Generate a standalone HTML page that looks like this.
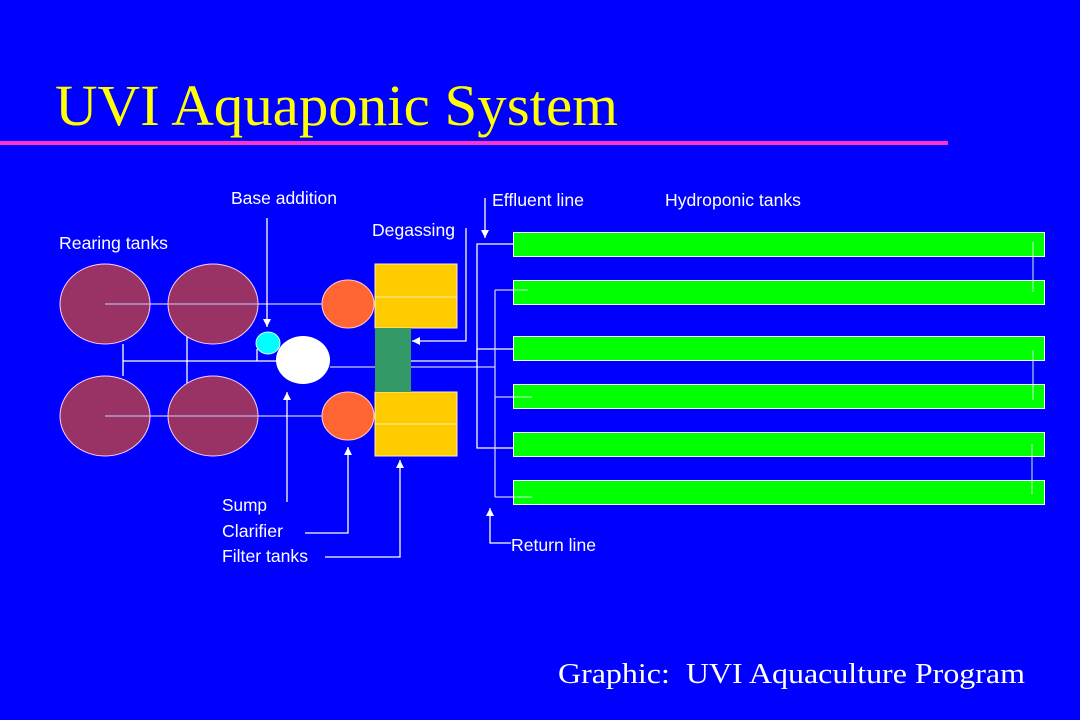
<!DOCTYPE html>
<html><head><meta charset="utf-8"><style>
html,body{margin:0;padding:0;background:#0000ff;}
svg{display:block;}
.l{font-family:"Liberation Sans",Arial,sans-serif;font-size:17.5px;fill:#fff;}
</style></head><body>
<svg width="1080" height="720" viewBox="0 0 1080 720" xmlns="http://www.w3.org/2000/svg">
<defs>
<marker id="a" viewBox="0 0 10 10" refX="10" refY="5" markerWidth="8" markerHeight="8" orient="auto-start-reverse" markerUnits="userSpaceOnUse"><path d="M0,0 L10,5 L0,10 z" fill="#fff"/></marker>
</defs>
<rect width="1080" height="720" fill="#0000ff"/>
<text x="55" y="125" font-family="Liberation Serif,serif" font-size="58" fill="#ffff00" textLength="563" lengthAdjust="spacingAndGlyphs">UVI Aquaponic System</text>
<rect x="0" y="141" width="948" height="4" fill="#ff33cc"/>

<g stroke="#fff" stroke-width="1.3" fill="none">
<line x1="105" y1="304" x2="322" y2="304" stroke="#ccccff"/>
<line x1="105" y1="416" x2="322" y2="416" stroke="#ccccff"/>
<line x1="123" y1="344" x2="123" y2="376"/>
<line x1="187" y1="337" x2="187" y2="383"/>
<line x1="123" y1="361" x2="280" y2="361"/>
<line x1="257" y1="361" x2="257" y2="349"/>
<line x1="330" y1="367" x2="495" y2="367" stroke="#ccccff"/>
<line x1="411" y1="361" x2="477" y2="361"/>
<polyline points="513,244 477,244 477,448 513,448"/>
<line x1="477" y1="349" x2="513" y2="349"/>
<line x1="495" y1="290" x2="495" y2="497" stroke="#ccccff"/>
<line x1="495" y1="290" x2="528" y2="290" stroke="#ccccff"/>
<line x1="495" y1="397" x2="528" y2="397" stroke="#ccccff"/>
<line x1="495" y1="497" x2="528" y2="497" stroke="#ccccff"/>
</g>

<g fill="#993366" stroke="#ffccff" stroke-width="1">
<ellipse cx="105" cy="304" rx="45" ry="40"/>
<ellipse cx="213" cy="304" rx="45" ry="40"/>
<ellipse cx="105" cy="416" rx="45" ry="40"/>
<ellipse cx="213" cy="416" rx="45" ry="40"/>
</g>
<g stroke="#ccccff" stroke-width="1">
<line x1="105" y1="304" x2="258" y2="304"/>
<line x1="105" y1="416" x2="258" y2="416"/>
</g>
<ellipse cx="268" cy="343" rx="12" ry="11" fill="#00ffff" stroke="#ccffff"/>
<ellipse cx="303" cy="360" rx="27" ry="24" fill="#fff"/>
<ellipse cx="348" cy="304" rx="26" ry="24" fill="#ff6633" stroke="#ffcccc"/>
<ellipse cx="348" cy="416" rx="26" ry="24" fill="#ff6633" stroke="#ffcccc"/>
<rect x="375" y="264" width="82" height="64" fill="#ffcc00" stroke="#ffeeaa"/>
<line x1="375" y1="297" x2="457" y2="297" stroke="#ffeeaa"/>
<rect x="375" y="392" width="82" height="64" fill="#ffcc00" stroke="#ffeeaa"/>
<line x1="375" y1="424" x2="457" y2="424" stroke="#ffeeaa"/>
<rect x="375" y="328" width="36" height="64" fill="#339966"/>

<g fill="#00ff00" stroke="#fff" stroke-width="1">
<rect x="513.5" y="232.5" width="531" height="24"/>
<rect x="513.5" y="280.5" width="531" height="24"/>
<rect x="513.5" y="336.5" width="531" height="24"/>
<rect x="513.5" y="384.5" width="531" height="24"/>
<rect x="513.5" y="432.5" width="531" height="24"/>
<rect x="513.5" y="480.5" width="531" height="24"/>
</g>
<g stroke="#ccffcc" stroke-width="1">
<line x1="513" y1="290" x2="528" y2="290"/>
<line x1="513" y1="397" x2="532" y2="397"/>
<line x1="513" y1="497" x2="532" y2="497"/>
<line x1="1033" y1="242" x2="1033" y2="292"/>
<line x1="1033" y1="350" x2="1033" y2="400"/>
<line x1="1032" y1="444" x2="1032" y2="494"/>
</g>

<g stroke="#fff" stroke-width="1.3" fill="none">
<line x1="267" y1="218" x2="267" y2="327" marker-end="url(#a)"/>
<polyline points="466,228 466,341 412,341" marker-end="url(#a)"/>
<line x1="485" y1="198" x2="485" y2="238" marker-end="url(#a)"/>
<polyline points="511,543 490,543 490,508" marker-end="url(#a)"/>
<line x1="287" y1="502" x2="287" y2="392" marker-end="url(#a)"/>
<polyline points="305,533 348,533 348,447" marker-end="url(#a)"/>
<polyline points="325,557 400,557 400,460" marker-end="url(#a)"/>
</g>

<text class="l" x="59" y="249" textLength="109" lengthAdjust="spacingAndGlyphs">Rearing tanks</text>
<text class="l" x="231" y="204" textLength="106" lengthAdjust="spacingAndGlyphs">Base addition</text>
<text class="l" x="372" y="236" textLength="83" lengthAdjust="spacingAndGlyphs">Degassing</text>
<text class="l" x="492" y="206" textLength="92" lengthAdjust="spacingAndGlyphs">Effluent line</text>
<text class="l" x="665" y="206" textLength="136" lengthAdjust="spacingAndGlyphs">Hydroponic tanks</text>
<text class="l" x="222" y="511" textLength="45" lengthAdjust="spacingAndGlyphs">Sump</text>
<text class="l" x="222" y="537" textLength="61" lengthAdjust="spacingAndGlyphs">Clarifier</text>
<text class="l" x="222" y="562" textLength="86" lengthAdjust="spacingAndGlyphs">Filter tanks</text>
<text class="l" x="511" y="551" textLength="85" lengthAdjust="spacingAndGlyphs">Return line</text>
<text x="558" y="683" font-family="Liberation Serif,serif" font-size="29" fill="#fff" textLength="467" lengthAdjust="spacingAndGlyphs" xml:space="preserve">Graphic:  UVI Aquaculture Program</text>
</svg>
</body></html>
